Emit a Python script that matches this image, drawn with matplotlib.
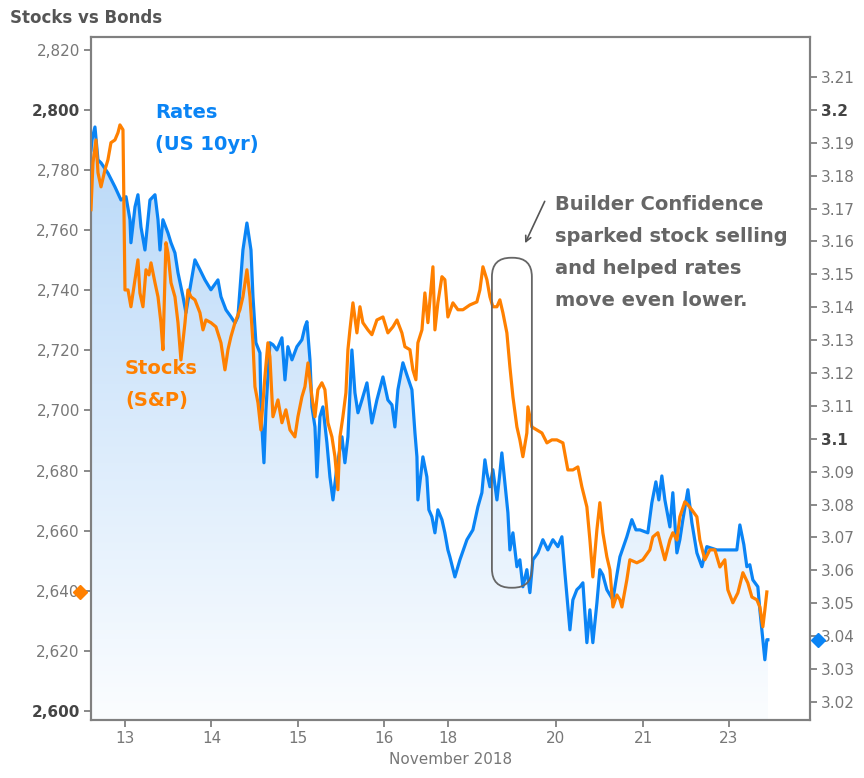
import matplotlib
matplotlib.use("Agg")
import matplotlib.pyplot as plt
import numpy as np
from matplotlib.patches import FancyBboxPatch, Polygon
from matplotlib.colors import LinearSegmentedColormap
from matplotlib.transforms import IdentityTransform, blended_transform_factory

plt.rcParams['font.family'] = ['DejaVu Sans']

# x = position in trading days (0 = Nov 13 label), weekends / holiday squeezed out
rates_pts = [
    (-0.393, 3.1878), (-0.382, 3.1909), (-0.347, 3.1948), (-0.312, 3.1848), (-0.277, 3.1839),
    (-0.197, 3.1808), (-0.116, 3.1766), (-0.046, 3.1726), (0.012, 3.1736), (0.058, 3.1666),
    (0.069, 3.1596), (0.116, 3.1705), (0.150, 3.1742), (0.185, 3.1644), (0.231, 3.1574),
    (0.289, 3.1726), (0.347, 3.1742), (0.382, 3.1666), (0.405, 3.1574), (0.439, 3.1666),
    (0.497, 3.1626), (0.532, 3.1596), (0.578, 3.1565), (0.613, 3.1505), (0.671, 3.1432),
    (0.705, 3.1383), (0.763, 3.1474), (0.809, 3.1544), (0.867, 3.1514), (0.925, 3.1483),
    (0.994, 3.1453), (1.075, 3.1483), (1.110, 3.1432), (1.168, 3.1392), (1.225, 3.1371),
    (1.272, 3.1352), (1.306, 3.1371), (1.364, 3.1574), (1.410, 3.1656), (1.457, 3.1574),
    (1.480, 3.1432), (1.514, 3.1292), (1.561, 3.1261), (1.572, 3.1088), (1.607, 3.0927),
    (1.630, 3.1088), (1.676, 3.1292), (1.711, 3.1286), (1.757, 3.1270), (1.815, 3.1307),
    (1.850, 3.1179), (1.884, 3.1280), (1.931, 3.1240), (1.988, 3.1280), (2.046, 3.1301),
    (2.081, 3.1340), (2.104, 3.1356), (2.139, 3.1240), (2.162, 3.1097), (2.197, 3.1036),
    (2.220, 3.0884), (2.254, 3.1067), (2.289, 3.1097), (2.335, 3.0988), (2.370, 3.0884),
    (2.405, 3.0814), (2.451, 3.0915), (2.509, 3.1006), (2.543, 3.0927), (2.578, 3.1006),
    (2.624, 3.1270), (2.659, 3.1140), (2.694, 3.1079), (2.740, 3.1118), (2.798, 3.1170),
    (2.855, 3.1048), (2.913, 3.1118), (2.983, 3.1188), (3.040, 3.1118), (3.087, 3.1103),
    (3.121, 3.1036), (3.156, 3.1149), (3.214, 3.1231), (3.260, 3.1194), (3.318, 3.1149),
    (3.353, 3.1018), (3.376, 3.0945), (3.387, 3.0814), (3.445, 3.0945), (3.491, 3.0884),
    (3.514, 3.0784), (3.549, 3.0763), (3.584, 3.0714), (3.618, 3.0784), (3.665, 3.0754),
    (3.699, 3.0714), (3.734, 3.0662), (3.757, 3.0641), (3.815, 3.0580), (3.873, 3.0632),
    (3.954, 3.0693), (4.023, 3.0723), (4.081, 3.0793), (4.127, 3.0836), (4.162, 3.0936),
    (4.185, 3.0896), (4.220, 3.0854), (4.254, 3.0906), (4.301, 3.0814), (4.335, 3.0896),
    (4.358, 3.0957), (4.393, 3.0866), (4.428, 3.0775), (4.451, 3.0662), (4.486, 3.0714),
    (4.532, 3.0611), (4.566, 3.0632), (4.601, 3.0550), (4.647, 3.0602), (4.682, 3.0532),
    (4.717, 3.0632), (4.775, 3.0653), (4.832, 3.0693), (4.890, 3.0662), (4.948, 3.0693),
    (5.006, 3.0672), (5.052, 3.0702), (5.087, 3.0592), (5.145, 3.0419), (5.179, 3.0510),
    (5.225, 3.0541), (5.260, 3.0550), (5.295, 3.0562), (5.341, 3.0380), (5.376, 3.0480),
    (5.410, 3.0380), (5.457, 3.0501), (5.491, 3.0602), (5.526, 3.0586), (5.572, 3.0541),
    (5.642, 3.0510), (5.688, 3.0586), (5.723, 3.0641), (5.803, 3.0702), (5.861, 3.0754),
    (5.908, 3.0723), (5.954, 3.0723), (6.046, 3.0714), (6.092, 3.0805), (6.139, 3.0869),
    (6.173, 3.0814), (6.208, 3.0887), (6.243, 3.0814), (6.301, 3.0732), (6.335, 3.0836),
    (6.382, 3.0653), (6.416, 3.0693), (6.451, 3.0754), (6.509, 3.0845), (6.555, 3.0745),
    (6.613, 3.0653), (6.671, 3.0611), (6.728, 3.0672), (6.844, 3.0662), (7.075, 3.0662),
    (7.110, 3.0738), (7.156, 3.0678), (7.191, 3.0611), (7.225, 3.0617), (7.260, 3.0571),
    (7.318, 3.0550), (7.341, 3.0480), (7.376, 3.0389), (7.399, 3.0328), (7.422, 3.0389),
    (7.434, 3.0389),
]

stocks_pts = [
    (-0.393, 2766.8), (-0.370, 2782.4), (-0.335, 2790.0), (-0.312, 2779.1), (-0.277, 2774.4),
    (-0.231, 2780.1), (-0.197, 2783.4), (-0.162, 2789.1), (-0.116, 2790.0), (-0.081, 2792.4),
    (-0.058, 2795.0), (-0.023, 2793.4), (-0.012, 2766.8), (0.000, 2740.1), (0.035, 2740.1),
    (0.069, 2734.5), (0.116, 2743.5), (0.150, 2750.1), (0.173, 2739.1), (0.208, 2734.5),
    (0.243, 2746.8), (0.277, 2745.1), (0.301, 2749.1), (0.347, 2742.5), (0.382, 2737.8),
    (0.416, 2729.2), (0.439, 2720.2), (0.474, 2755.8), (0.497, 2752.4), (0.532, 2742.5),
    (0.578, 2737.8), (0.613, 2729.2), (0.647, 2716.8), (0.694, 2729.2), (0.728, 2740.1),
    (0.763, 2737.8), (0.809, 2736.8), (0.867, 2732.5), (0.902, 2726.8), (0.936, 2730.1),
    (0.994, 2729.2), (1.052, 2727.8), (1.110, 2722.5), (1.156, 2713.5), (1.191, 2720.2),
    (1.225, 2724.5), (1.272, 2729.2), (1.329, 2733.5), (1.364, 2737.8), (1.410, 2746.8),
    (1.445, 2737.8), (1.480, 2722.5), (1.503, 2707.9), (1.538, 2702.5), (1.572, 2693.5),
    (1.618, 2711.2), (1.653, 2722.5), (1.676, 2717.8), (1.711, 2697.9), (1.769, 2703.5),
    (1.815, 2695.9), (1.861, 2700.2), (1.908, 2693.5), (1.965, 2691.2), (2.000, 2697.9),
    (2.046, 2704.5), (2.081, 2707.9), (2.116, 2715.8), (2.162, 2704.5), (2.197, 2697.9),
    (2.231, 2706.9), (2.277, 2709.2), (2.312, 2706.9), (2.347, 2695.9), (2.393, 2691.2),
    (2.428, 2684.6), (2.462, 2673.6), (2.486, 2691.2), (2.520, 2697.9), (2.555, 2705.9),
    (2.578, 2720.2), (2.601, 2726.8), (2.636, 2735.8), (2.682, 2725.8), (2.717, 2734.5),
    (2.751, 2729.2), (2.809, 2726.8), (2.855, 2725.2), (2.913, 2730.1), (2.983, 2731.1),
    (3.040, 2725.8), (3.098, 2727.8), (3.145, 2730.1), (3.202, 2725.8), (3.237, 2721.2),
    (3.295, 2720.2), (3.329, 2713.5), (3.364, 2710.2), (3.387, 2722.5), (3.434, 2726.8),
    (3.468, 2739.1), (3.503, 2729.2), (3.561, 2747.8), (3.584, 2726.8), (3.618, 2735.8),
    (3.665, 2744.5), (3.699, 2743.5), (3.734, 2731.1), (3.792, 2735.8), (3.850, 2733.5),
    (3.908, 2733.5), (3.988, 2735.1), (4.069, 2736.1), (4.104, 2740.1), (4.139, 2747.8),
    (4.185, 2743.5), (4.220, 2737.8), (4.254, 2734.5), (4.301, 2734.5), (4.335, 2736.8),
    (4.370, 2732.5), (4.416, 2725.8), (4.451, 2714.5), (4.486, 2704.5), (4.532, 2694.5),
    (4.566, 2690.2), (4.601, 2684.6), (4.647, 2692.5), (4.659, 2701.2), (4.705, 2694.5),
    (4.763, 2693.5), (4.821, 2692.5), (4.879, 2689.2), (4.936, 2690.2), (4.994, 2690.2),
    (5.064, 2689.2), (5.121, 2680.2), (5.179, 2680.2), (5.237, 2681.2), (5.283, 2674.6),
    (5.341, 2667.9), (5.376, 2656.9), (5.410, 2644.6), (5.457, 2660.3), (5.491, 2669.3),
    (5.526, 2659.3), (5.572, 2651.3), (5.607, 2647.0), (5.642, 2634.6), (5.688, 2638.6),
    (5.723, 2637.0), (5.746, 2634.6), (5.803, 2643.6), (5.838, 2650.3), (5.919, 2649.3),
    (5.988, 2650.3), (6.069, 2653.6), (6.104, 2657.9), (6.162, 2659.3), (6.197, 2655.3),
    (6.243, 2650.3), (6.301, 2656.9), (6.335, 2659.3), (6.382, 2656.9), (6.416, 2664.6),
    (6.474, 2669.6), (6.509, 2668.6), (6.555, 2666.9), (6.613, 2664.6), (6.647, 2656.9),
    (6.705, 2650.3), (6.763, 2653.6), (6.821, 2653.6), (6.879, 2647.9), (6.936, 2650.3),
    (6.971, 2640.3), (7.029, 2636.0), (7.087, 2639.3), (7.145, 2646.0), (7.202, 2642.6),
    (7.249, 2637.9), (7.306, 2637.0), (7.341, 2634.6), (7.376, 2628.0), (7.399, 2633.6),
    (7.422, 2639.6),
]

day_ticks = [0, 1, 2, 3, 3.73, 4.98, 5.99, 6.98]
day_labels = ['13', '14', '15', '16', '18', '20', '21', '23']
stock_ticks = list(range(2600, 2821, 20))
rate_ticks = [round(3.02 + 0.01 * i, 2) for i in range(20)]

BLUE = '#0a84f5'
ORANGE = '#ff8000'
GREY = '#808080'

rx, ry = map(np.array, zip(*rates_pts))
sx, sy = map(np.array, zip(*stocks_pts))

x_lo, x_hi = -0.393, 7.919
r_lo, r_hi = 3.0145, 3.2222
s_lo, s_hi = 2597.0, 2824.3

fig = plt.figure(figsize=(8.64, 7.78), dpi=100)
ax = fig.add_axes([0.1053, 0.0746, 0.832, 0.878])   # rates (right scale)
ax2 = ax.twinx()                                       # stocks (left scale)
ax.yaxis.tick_right()
ax2.yaxis.tick_left()

# gradient area under the rates line
poly = np.column_stack([np.r_[rx[0], rx, rx[-1]], np.r_[r_lo, ry, r_lo]])
clip = Polygon(poly, closed=True, facecolor='none', edgecolor='none')
ax.add_patch(clip)
cmap = LinearSegmentedColormap.from_list('fill', ['#fbfdff', '#b8d8f8'])
grad = np.linspace(0, 1, 256).reshape(-1, 1)
im = ax.imshow(grad, cmap=cmap, aspect='auto', origin='lower',
               extent=[rx[0], rx[-1], r_lo, ry.max()], zorder=1)
im.set_clip_path(clip)

ax.plot(rx, ry, color=BLUE, lw=2.3, zorder=3)
ax2.plot(sx, sy, color=ORANGE, lw=2.3, zorder=3)

ax.set_xlim(x_lo, x_hi)
ax.set_ylim(r_lo, r_hi)
ax2.set_ylim(s_lo, s_hi)

ax.set_xticks(day_ticks)
ax.set_xticklabels(day_labels)
ax.set_yticks(rate_ticks)
ax.set_yticklabels(['%.1f' % v if abs(v * 10 - round(v * 10)) < 1e-6 else '%.2f' % v
                    for v in rate_ticks])
ax2.set_yticks(stock_ticks)
ax2.set_yticklabels(['{:,}'.format(v) for v in stock_ticks])

for a in (ax, ax2):
    a.tick_params(direction='out', length=5, width=1.3, color=GREY,
                  labelcolor='#777777', labelsize=11, pad=3)
    for sp in a.spines.values():
        sp.set_color(GREY)
        sp.set_linewidth(1.5)

for lab in ax.get_yticklabels():
    if len(lab.get_text()) == 3:
        lab.set_fontweight('bold')
        lab.set_color('#444444')
for lab in ax2.get_yticklabels():
    if lab.get_text() in ('2,800', '2,600'):
        lab.set_fontweight('bold')
        lab.set_color('#444444')

ax.set_xlabel('November 2018', fontsize=11, color='#777777', labelpad=4)

fig.text(0.0116, 0.977, 'Stocks vs Bonds', fontsize=12, fontweight='bold',
         color='#555555', ha='left', va='center')

ax2.text(0.347, 2802.3, 'Rates\n(US 10yr)', color=BLUE, fontsize=14,
         fontweight='bold', ha='left', va='top', linespacing=1.88)
ax2.text(0.0, 2717.2, 'Stocks\n(S&P)', color=ORANGE, fontsize=14,
         fontweight='bold', ha='left', va='top', linespacing=1.88)
ax2.text(4.971, 2771.8,
         'Builder Confidence\nsparked stock selling\nand helped rates\nmove even lower.',
         color='#666666', fontsize=14, fontweight='bold', ha='left', va='top',
         linespacing=1.87)
ax2.annotate('', xy=(4.613, 2754.8), xytext=(4.867, 2770.4),
             arrowprops=dict(arrowstyle='->', color='#555555', lw=1.2))

# rounded highlight box around the builder confidence move
fig.canvas.draw()
(bx0, by0) = ax2.transData.transform((4.243, 2641.0))
(bx1, by1) = ax2.transData.transform((4.705, 2750.8))
box = FancyBboxPatch((bx0, by0), bx1 - bx0, by1 - by0,
                     boxstyle='round,pad=0,rounding_size=19',
                     transform=IdentityTransform(), facecolor='none',
                     edgecolor='#666666', lw=1.3, zorder=5)
fig.add_artist(box)

# last-value markers on both axes
tl = blended_transform_factory(ax2.transAxes, ax2.transData)
ax2.plot([-0.0153], [sy[-1]], marker='D', ms=7, color=ORANGE, transform=tl,
         clip_on=False, zorder=6)
tr = blended_transform_factory(ax.transAxes, ax.transData)
ax.plot([1.011], [ry[-1]], marker='D', ms=7, color=BLUE, transform=tr,
        clip_on=False, zorder=6)

fig.savefig('out.png', dpi=100)
